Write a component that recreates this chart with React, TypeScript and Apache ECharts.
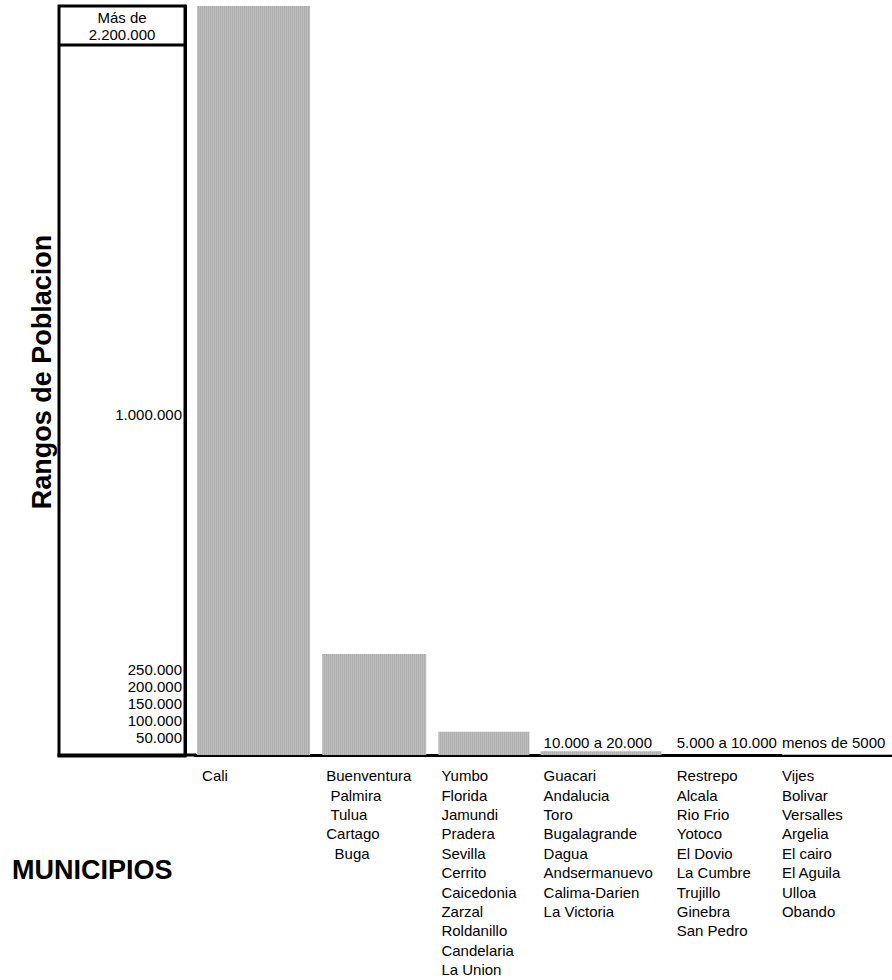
import React, { useEffect, useRef } from 'react';
import * as echarts from 'echarts';

// ---- data ----
const categories = ['Cali', 'Buenventura', 'Yumbo', 'Guacari', 'Restrepo', 'Vijes'];
const municipiosCali = ['Cali'];
const municipios250 = ['Buenventura', '\u00a0Palmira', '\u00a0Tulua', 'Cartago', '\u00a0\u00a0Buga'];
const municipios50 = ['Yumbo', 'Florida', 'Jamundi', 'Pradera', 'Sevilla', 'Cerrito', 'Caicedonia', 'Zarzal', 'Roldanillo', 'Candelaria', 'La Union'];
const municipios10a20 = ['Guacari', 'Andalucia', 'Toro', 'Bugalagrande', 'Dagua', 'Andsermanuevo', 'Calima-Darien', 'La Victoria'];
const municipios5a10 = ['Restrepo', 'Alcala', 'Rio Frio', 'Yotoco', 'El Dovio', 'La Cumbre', 'Trujillo', 'Ginebra', 'San Pedro'];
const municipiosMenos5 = ['Vijes', 'Bolivar', 'Versalles', 'Argelia', 'El cairo', 'El Aguila', 'Ulloa', 'Obando'];
const groups = [municipiosCali, municipios250, municipios50, municipios10a20, municipios5a10, municipiosMenos5];
const poblacion = [2200000, 297000, 68000, 11000, 0, 3000];
const rangeLabels = ['', '', '', '10.000 a 20.000', '5.000 a 10.000', 'menos de 5000'];
const tickValues = [50000, 100000, 150000, 200000, 250000, 1000000];
const tickLabels = ['50.000', '100.000', '150.000', '200.000', '250.000', '1.000.000'];
const topLabel = 'Más de\n2.200.000';
const yMax = 2200000;
const yTitle = 'Rangos de Poblacion';
const xTitle = 'MUNICIPIOS';

// ---- styles ----
const FONT = "'Liberation Sans', Arial, sans-serif";
const BAR = '#b4b4b4';
const barOffsets = [-56, -47, -47, -61, -46, -52];
const barWidths = [113, 104, 91, 121, 100, 110];
const labelOffsets = [-51, -43, -44, -58, -41, -52];

function makeTexture(): any {
  try {
    const c = document.createElement('canvas');
    c.width = 4;
    c.height = 4;
    const ctx = c.getContext('2d');
    if (!ctx) return BAR;
    const cols = ['#aaaaaa', '#bcbcbc', '#b2b2b2', '#bdbdbd'];
    for (let x = 0; x < 4; x++) {
      for (let y = 0; y < 4; y++) {
        ctx.fillStyle = cols[(x + (y % 2) * 2) % 4];
        ctx.fillRect(x, y, 1, 1);
      }
    }
    return { image: c, repeat: 'repeat' };
  } catch (e) {
    return BAR;
  }
}

export default function App() {
  const ref = useRef<HTMLDivElement>(null);
  useEffect(() => {
    if (!ref.current) return;
    const chart = echarts.init(ref.current, null, { renderer: 'svg' });
    const barFill = makeTexture();
    const rich: Record<string, any> = {};
    groups.forEach((_, i) => {
      rich['c' + i] = {
        width: -2 * labelOffsets[i],
        align: 'left',
        fontSize: 15,
        lineHeight: 19.4,
        fontFamily: FONT,
        color: '#000',
      };
    });
    chart.setOption({
      animation: false,
      backgroundColor: '#fff',
      grid: { left: 195, right: 0, top: 6, bottom: 225, containLabel: false, outerBoundsMode: 'none' },
      xAxis: {
        type: 'category',
        data: categories,
        axisLine: { show: true, lineStyle: { color: '#000', width: 3 } },
        axisTick: { show: false },
        splitLine: { show: false },
        axisLabel: {
          interval: 0,
          margin: 11,
          align: 'center',
          verticalAlign: 'top',
          formatter: (_v: string, idx: number) => groups[idx].map((l) => `{c${idx}|${l}}`).join('\n'),
          rich,
        },
      },
      yAxis: {
        type: 'value',
        min: 0,
        max: yMax,
        offset: 10,
        axisLine: { show: true, lineStyle: { color: '#000', width: 3 } },
        axisTick: { show: false },
        splitLine: { show: false },
        axisLabel: {
          customValues: tickValues,
          margin: 3,
          fontSize: 15,
          fontFamily: FONT,
          color: '#000',
          formatter: (v: number) => {
            const k = tickValues.indexOf(v);
            return k >= 0 ? tickLabels[k] : '';
          },
        },
      },
      graphic: [
        { type: 'rect', shape: { x: 59, y: 6, width: 126, height: 750 }, style: { fill: 'none', stroke: '#000', lineWidth: 3 }, z: 10 },
        { type: 'line', shape: { x1: 59, y1: 45, x2: 185, y2: 45 }, style: { stroke: '#000', lineWidth: 3 }, z: 10 },
        { type: 'line', shape: { x1: 57.5, y1: 755, x2: 196, y2: 755 }, style: { stroke: '#000', lineWidth: 3 }, z: 10 },
        { type: 'text', x: 122, y: 26, style: { text: topLabel, align: 'center', verticalAlign: 'middle', fontSize: 15, lineHeight: 17, fontFamily: FONT, fill: '#000' } },
        { type: 'text', x: 42, y: 372, rotation: Math.PI / 2, style: { text: yTitle, align: 'center', verticalAlign: 'middle', fontSize: 27, fontWeight: 'bold', fontFamily: FONT, fill: '#000' } },
        { type: 'text', x: 12, y: 870, style: { text: xTitle, align: 'left', verticalAlign: 'middle', fontSize: 27, fontWeight: 'bold', fontFamily: FONT, fill: '#000' } },
      ],
      series: [
        {
          type: 'custom',
          data: poblacion.map((v, i) => [i, v]),
          encode: { x: 0, y: 1 },
          renderItem: (_params: any, api: any) => {
            const i = api.value(0) as number;
            const v = api.value(1) as number;
            const top = api.coord([i, v]);
            const base = api.coord([i, 0]);
            const children: any[] = [
              {
                type: 'rect',
                shape: { x: top[0] + barOffsets[i], y: top[1], width: barWidths[i], height: base[1] - top[1] },
                style: { fill: barFill },
              },
            ];
            if (rangeLabels[i]) {
              children.push({
                type: 'text',
                x: base[0] + labelOffsets[i],
                y: base[1] - 13,
                style: { text: rangeLabels[i], align: 'left', verticalAlign: 'middle', fontSize: 15, fontFamily: FONT, fill: '#000' },
              });
            }
            return { type: 'group', children };
          },
        },
      ],
    });
    return () => chart.dispose();
  }, []);
  return <div ref={ref} style={{ position: 'absolute', left: 0, top: 0, width: 892, height: 980, background: '#fff' }} />;
}
